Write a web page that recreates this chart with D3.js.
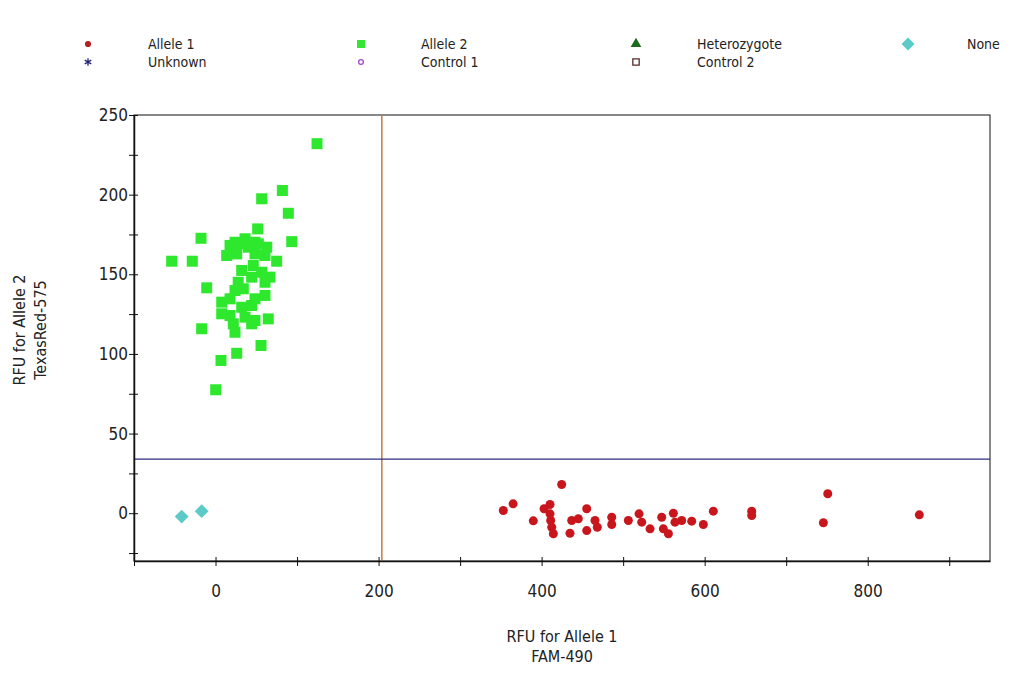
<!DOCTYPE html>
<html>
<head>
<meta charset="utf-8">
<script src="https://cdn.jsdelivr.net/npm/d3@7"></script>
<style>
  body { margin: 0; background: #fff; }
  text { font-family: "DejaVu Sans", sans-serif; font-stretch: condensed; fill: #222; }
</style>
</head>
<body>
<div id="chart"></div>
<script>
// Allele 2 calls (FAM-490, TexasRed-575)
const allele2 = [
  [124.5, 232], [82, 202.6], [56.6, 197.4], [89.3, 188.3], [51.7, 178.5], [-17.8, 172.6],
  [93.5, 170.5], [-53.8, 158.2], [-28.5, 158.2], [75, 158.2], [-10.8, 141.5], [7.6, 132.5],
  [-17, 115.8], [55.8, 105.3], [26, 100.4], [6.7, 95.9], [0.2, 77.5],
  [17.8, 168.1], [28, 169.1], [40.2, 167], [52.5, 169.1], [62.8, 167], [13.7, 161.8],
  [26, 162.8], [48.4, 162.8], [60.7, 161.8], [32.1, 152.4], [46.3, 155.5], [56.6, 151.3],
  [66.8, 148.2], [27.8, 145], [44.3, 148.2], [60.7, 145], [23.9, 139.8], [34.1, 140.9],
  [17.8, 134.6], [48.4, 134.6], [60.7, 136.7], [32.1, 129.3], [44.3, 130.4], [7.6, 125.2],
  [17.8, 124.1], [36.2, 123.1], [48.4, 121], [64.7, 122], [21.8, 118.9], [44.3, 118.9],
  [23.9, 113.6], [23.9, 170.1], [36.2, 172.3], [48.4, 170.1]
];

// Allele 1 calls
const allele1 = [
  [353, 1.7], [365, 5.9], [389.8, -4.8], [403, 2.8], [410.3, 5.5], [410.3, -0.4],
  [411.1, -4.6], [412.4, -8.8], [414.4, -12.9], [424.6, 18], [434.8, -12.6], [436.9, -4.6],
  [445, -3.5], [455.3, 2.8], [455.3, -10.9], [465.5, -4.6], [468.3, -8.8], [486, -2.5],
  [486, -7.1], [506.4, -4.6], [519.5, -0.4], [522.8, -5.6], [533, -9.8], [547.3, -2.5],
  [549.3, -9.8], [555.5, -12.9], [561.6, 0], [563.6, -5.6], [571.8, -4.6], [584.1, -5],
  [598.4, -7.1], [610.6, 1.3], [657.7, 1.3], [657.7, -1.4], [751, 12.2], [745.6, -6],
  [863.3, -1]
];

// no call
const noneCalls = [[-41.5, -2.1], [-17, 1.3]];

// threshold lines
const xThreshold = 204;
const yThreshold = 34;

const xTicks = [-100, 0, 100, 200, 300, 400, 500, 600, 700, 800, 900];
const xLabels = [0, 200, 400, 600, 800];
const yTicks = [-25, 0, 25, 50, 75, 100, 125, 150, 175, 200, 225, 250];
const yLabels = [0, 50, 100, 150, 200, 250];

const legendNames = ['Allele 1', 'Allele 2', 'Heterozygote', 'None',
                     'Unknown', 'Control 1', 'Control 2'];

const width = 1024;
const height = 675;
const plotLeft = 134, plotRight = 990, plotTop = 115, plotBottom = 561;

const svg = d3.select('#chart').append('svg')
  .attr('width', width)
  .attr('height', height);

const x = d3.scaleLinear().domain([-100, 950]).range([plotLeft, plotRight]);
const y = d3.scaleLinear().domain([-30, 250]).range([plotBottom, plotTop]);

// legend (diamond = square turned 45 degrees)
const legendSym = [
  { type: d3.symbolCircle, size: 30, fill: '#b52020', stroke: 'none', rot: 0 },
  { type: d3.symbolSquare, size: 64, fill: '#33e633', stroke: 'none', rot: 0 },
  { type: d3.symbolTriangle, size: 50, fill: '#1d6b1d', stroke: 'none', rot: 0 },
  { type: d3.symbolSquare, size: 85, fill: '#5ccac6', stroke: 'none', rot: 45 },
  { type: d3.symbolAsterisk, size: 40, fill: 'none', stroke: '#23237a', rot: 0 },
  { type: d3.symbolCircle, size: 18, fill: 'none', stroke: '#a048c8', rot: 0 },
  { type: d3.symbolSquare, size: 40, fill: 'none', stroke: '#5a2a2a', rot: 0 }
];
const legendSymX = [88, 361, 636, 908];
const legendTextX = [148, 421, 697, 967];
const legendRowY = [44, 62];

const legend = svg.append('g').attr('class', 'legend');
legendNames.forEach(function(name, i) {
  var col = i < 4 ? i : i - 4;
  var row = i < 4 ? 0 : 1;
  var s = legendSym[i];
  legend.append('path')
    .attr('transform', 'translate(' + legendSymX[col] + ',' + legendRowY[row] + ') rotate(' + s.rot + ')')
    .attr('d', d3.symbol().type(s.type).size(s.size)())
    .attr('fill', s.fill)
    .attr('stroke', s.stroke)
    .attr('stroke-width', 1.3);
  legend.append('text')
    .attr('x', legendTextX[col])
    .attr('y', legendRowY[row])
    .attr('dy', '0.35em')
    .style('font-size', '14px')
    .text(name);
});

// plot frame
svg.append('rect')
  .attr('x', plotLeft).attr('y', plotTop)
  .attr('width', plotRight - plotLeft).attr('height', plotBottom - plotTop)
  .attr('fill', 'none')
  .attr('stroke', '#111')
  .attr('stroke-width', 1);

// threshold lines
svg.append('line')
  .attr('x1', x(xThreshold)).attr('x2', x(xThreshold))
  .attr('y1', plotTop).attr('y2', plotBottom)
  .attr('stroke', '#c47a44').attr('stroke-width', 1.5);
svg.append('line')
  .attr('x1', plotLeft).attr('x2', plotRight)
  .attr('y1', y(yThreshold)).attr('y2', y(yThreshold))
  .attr('stroke', '#2c2c82').attr('stroke-width', 1.3);

// axes
const xAxis = svg.append('g')
  .attr('transform', 'translate(0,' + plotBottom + ')')
  .call(d3.axisBottom(x).tickValues(xTicks).tickSizeOuter(0)
    .tickFormat(d => xLabels.includes(d) ? d : ''));
const yAxis = svg.append('g')
  .attr('transform', 'translate(' + plotLeft + ',0)')
  .call(d3.axisLeft(y).tickValues(yTicks).tickSizeOuter(0)
    .tickFormat(d => yLabels.includes(d) ? d : ''));

xAxis.select('.domain').attr('stroke', '#111').attr('stroke-width', 1.5);
yAxis.select('.domain').attr('stroke', '#111').attr('stroke-width', 1.5);
xAxis.selectAll('.tick line').attr('y1', -4).attr('y2', 5).attr('stroke', '#111');
yAxis.selectAll('.tick line').attr('x1', -5).attr('x2', 4).attr('stroke', '#111');
xAxis.selectAll('.tick text').attr('y', 24).attr('dy', '0.71em')
  .style('font-size', '17px').attr('fill', '#222');
yAxis.selectAll('.tick text').attr('x', -6)
  .style('font-size', '17px').attr('fill', '#222');

// axis titles
svg.append('text')
  .attr('x', (plotLeft + plotRight) / 2).attr('y', 642)
  .attr('text-anchor', 'middle')
  .style('font-size', '16px')
  .text('RFU for Allele 1');
svg.append('text')
  .attr('x', (plotLeft + plotRight) / 2).attr('y', 662)
  .attr('text-anchor', 'middle')
  .style('font-size', '16px')
  .text('FAM-490');
svg.append('text')
  .attr('transform', 'translate(25,' + ((plotTop + plotBottom) / 2 - 8) + ') rotate(-90)')
  .attr('text-anchor', 'middle')
  .style('font-size', '16px')
  .text('RFU for Allele 2');
svg.append('text')
  .attr('transform', 'translate(46,' + ((plotTop + plotBottom) / 2 - 8) + ') rotate(-90)')
  .attr('text-anchor', 'middle')
  .style('font-size', '16px')
  .text('TexasRed-575');

// points
const marks = svg.append('g').attr('class', 'marks');

marks.selectAll('.none').data(noneCalls).enter().append('path')
  .attr('class', 'none')
  .attr('transform', d => 'translate(' + x(d[0]) + ',' + y(d[1]) + ') rotate(45)')
  .attr('d', d3.symbol().type(d3.symbolSquare).size(95)())
  .attr('fill', '#5ccac6');

marks.selectAll('.allele2').data(allele2).enter().append('rect')
  .attr('class', 'allele2')
  .attr('x', d => x(d[0]) - 5.5)
  .attr('y', d => y(d[1]) - 5.5)
  .attr('width', 11).attr('height', 11)
  .attr('fill', '#2ee82e');

marks.selectAll('.allele1').data(allele1).enter().append('circle')
  .attr('class', 'allele1')
  .attr('cx', d => x(d[0]))
  .attr('cy', d => y(d[1]))
  .attr('r', 4.5)
  .attr('fill', '#c8161c');
</script>
</body>
</html>
